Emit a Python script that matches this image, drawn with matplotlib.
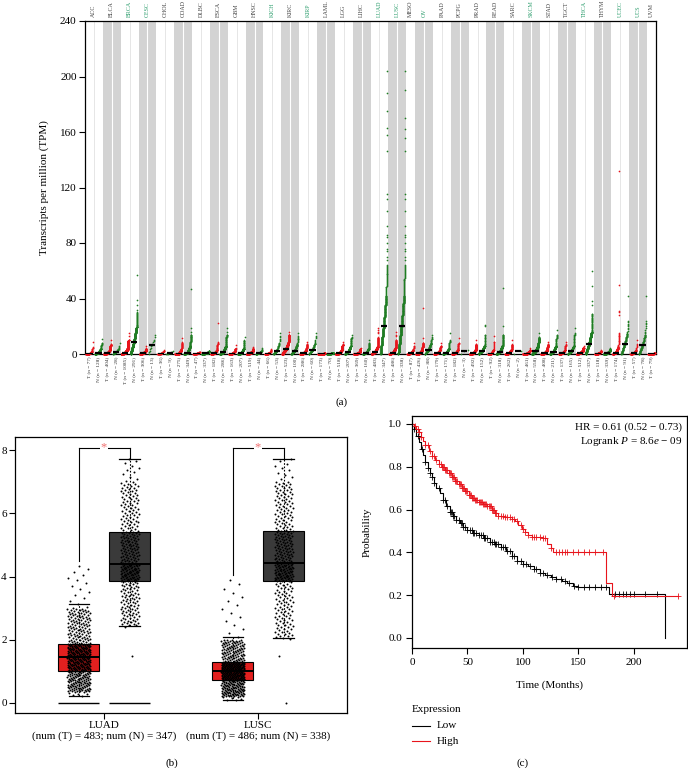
import numpy as np
import matplotlib
matplotlib.use("Agg")
import matplotlib.pyplot as plt
from matplotlib.lines import Line2D

plt.rcParams['font.family'] = ['Liberation Serif', 'DejaVu Serif']
plt.rcParams['mathtext.fontset'] = 'custom'
plt.rcParams['mathtext.rm'] = 'Liberation Serif'
plt.rcParams['mathtext.it'] = 'Liberation Serif:italic'

# ---------------- Panel (a) data ----------------
cancers = ['ACC', 'BLCA', 'BRCA', 'CESC', 'CHOL', 'COAD', 'DLBC', 'ESCA', 'GBM', 'HNSC', 'KICH',
           'KIRC', 'KIRP', 'LAML', 'LGG', 'LIHC', 'LUAD', 'LUSC', 'MESO', 'OV', 'PAAD', 'PCPG',
           'PRAD', 'READ', 'SARC', 'SKCM', 'STAD', 'TGCT', 'THCA', 'THYM', 'UCEC', 'UCS', 'UVM']
cancer_sig = ['BRCA', 'CESC', 'KICH', 'KIRP', 'LUAD', 'LUSC', 'OV', 'SKCM', 'THCA', 'UCEC', 'UCS']
tumor_n = [77, 404, 1085, 306, 36, 275, 47, 182, 163, 519, 66, 523, 286, 173, 518, 369, 483, 486,
           87, 426, 179, 182, 492, 92, 262, 461, 408, 137, 512, 118, 174, 57, 79]
normal_n = [128, 28, 291, 13, 9, 349, 337, 286, 207, 44, 53, 100, 60, 70, 207, 160, 347, 338,
            0, 88, 171, 3, 152, 318, 2, 558, 211, 165, 337, 339, 91, 78, 0]
# TPM: median, 90th percentile, top of dense part, isolated high values
tumor_med = [0.3, 0.5, 1.0, 0.5, 0.3, 0.3, 0.3, 0.5, 0.3, 0.5, 0.3, 3.4, 0.5, 0.1, 0.5, 0.3, 1.4, 1.0,
             0.5, 0.5, 0.5, 0.5, 0.5, 0.3, 0.5, 0.3, 0.5, 0.5, 0.8, 0.3, 1.0, 0.5, 0.2]
tumor_q90 = [2, 3, 4, 2, 1.5, 3, 1, 3, 2, 2, 1.5, 8, 3, 0.4, 3, 1.5, 5, 4,
             3, 3, 3, 3, 3, 3, 3, 1.5, 3, 3, 2.5, 1.5, 5, 3, 0.4]
tumor_top = [5, 7, 10, 4, 2.5, 8, 1.7, 8, 4, 4, 3, 14, 7, 0.8, 7, 3.5, 12, 10,
             6, 8, 6, 8, 7, 9, 7, 3, 7, 7, 4.5, 2.5, 15, 7, 0.6]
tumor_extra = [[9], [10], [15, 13], [6], [3], [11.8, 9], [], [22, 9], [6.5], [5], [3.4], [16], [9],
               [], [8.5], [4.5], [19, 17, 16, 15], [16, 14, 13], [8], [33, 11.5], [8], [11.5], [10],
               [13], [10], [4], [9], [9], [5.5], [3], [132, 50, 31, 30, 28], [10], []]
normal_med = [0.8, 1.4, 9, 6.2, 0.5, 1.0, 0.5, 1.2, 0.5, 0.8, 2.4, 2.4, 2.9, 0.3, 1.5, 0.8, 20, 20,
              0, 3, 1.0, 2, 2, 1.5, 2, 2, 1.5, 2, 7.2, 0.5, 7.2, 6.5, 0]
normal_q90 = [4, 4, 20, 10, 1.5, 6, 1.2, 6, 4, 2, 8, 7, 8, 0.6, 6, 4, 42, 42,
              0, 8, 4, 2.5, 6, 6, 2.1, 6, 6, 6, 16, 2, 15, 14, 0]
normal_top = [8, 6, 30, 12, 2, 14, 2, 14, 10, 3.5, 13, 13, 13, 1.0, 12, 8, 64, 64,
              0, 12, 10, 3, 14, 14, 2.2, 12, 14, 15, 29, 3.5, 24, 24, 0]
lung_tail_luad = [204, 188, 175, 163, 158, 146, 115, 112, 103, 92, 86, 84, 80, 76, 74, 70, 68]
lung_tail_lusc = [204, 190, 170, 162, 156, 146, 115, 112, 103, 92, 86, 84, 80, 76, 74, 70, 68]
normal_extra = [[10.5], [7.7], [57, 39, 35, 32], [14], [], [47, 18.5, 16], [], [18.5, 16], [12.5], [4],
                [15], [15], [15], [], [13.7], [10], lung_tail_luad, lung_tail_lusc, [], [14], [15], [],
                [21, 20], [47.5, 20], [], [15], [17.5], [19], [60, 49, 38, 35], [4], [42], [42], []]

# ---------------- Panel (b) data (log2(TPM+1)) ----------------
box_names = ['LUAD', 'LUSC']
box_nT = [483, 486]
box_nN = [347, 338]
# whislo, q1, med, q3, whishi
boxT_stats = [[0.21, 1.00, 1.44, 1.88, 3.13], [0.08, 0.72, 1.01, 1.28, 2.09]]
boxN_stats = [[2.44, 3.85, 4.41, 5.41, 7.72], [2.04, 3.85, 4.44, 5.44, 7.72]]
# quantile profiles of the jittered points
ptsT_p = [[0, 0.01, 0.25, 0.5, 0.75, 0.97, 1.0], [0, 0.01, 0.25, 0.5, 0.75, 0.97, 1.0]]
ptsT_v = [[0.21, 0.35, 1.00, 1.44, 1.88, 3.0, 4.34], [0.08, 0.2, 0.72, 1.01, 1.28, 2.0, 3.88]]
ptsN_p = [[0, 0.003, 0.25, 0.5, 0.75, 0.97, 1.0], [0, 0.0029, 0.006, 0.25, 0.5, 0.75, 0.97, 1.0]]
ptsN_v = [[1.48, 2.44, 3.85, 4.41, 5.41, 7.0, 7.72], [0.0, 1.48, 2.04, 3.85, 4.44, 5.44, 7.0, 7.72]]
bracket_left_low = [4.5, 4.06]
bracket_top = 8.08
zero_line = [True, False]

# ---------------- Panel (c) data ----------------
high_t = [0, 2, 4, 6, 8, 10, 12, 15, 18, 21, 24, 27, 30, 33, 36, 39, 42, 45, 48, 51, 54, 57, 60, 64,
          68, 72, 75, 78, 84, 90, 93, 96, 99, 102, 105, 108, 118, 122, 125, 127, 175, 180, 240]
high_s = [1.0, 0.99, 0.975, 0.96, 0.94, 0.92, 0.9, 0.875, 0.85, 0.83, 0.815, 0.80, 0.785, 0.77, 0.75,
          0.735, 0.72, 0.70, 0.685, 0.67, 0.655, 0.645, 0.635, 0.625, 0.615, 0.60, 0.585, 0.57, 0.565,
          0.555, 0.545, 0.53, 0.51, 0.495, 0.48, 0.47, 0.465, 0.44, 0.42, 0.40, 0.257, 0.195, 0.195]
low_t = [0, 2, 4, 6, 8, 10, 12, 14, 16, 18, 20, 22, 25, 28, 31, 34, 37, 40, 43, 46, 50, 55, 60, 65,
         70, 75, 80, 85, 90, 95, 100, 105, 110, 115, 120, 125, 130, 135, 140, 145, 150, 178, 228.6]
low_s = [1.0, 0.975, 0.945, 0.915, 0.885, 0.855, 0.82, 0.795, 0.77, 0.75, 0.725, 0.70, 0.675, 0.645,
         0.615, 0.59, 0.57, 0.55, 0.535, 0.52, 0.505, 0.49, 0.48, 0.465, 0.45, 0.44, 0.425, 0.405,
         0.385, 0.36, 0.345, 0.335, 0.32, 0.305, 0.295, 0.285, 0.275, 0.265, 0.255, 0.245, 0.238,
         0.203, 0.0]
high_cens = [3, 5, 6, 8, 12, 14, 16, 18, 20, 22, 24, 26, 27, 28, 29, 30, 31, 32, 33, 34, 35, 36, 37, 38,
             39, 40, 41, 42, 43, 44, 45, 46, 47, 48, 49, 50, 51, 52, 53, 54, 55, 56, 57, 58, 59, 60, 61,
             62, 63, 64, 65, 66, 67, 68, 69, 70, 71, 72, 73, 74, 75, 76, 78, 80, 82, 84, 86, 88, 90, 92,
             95, 98, 100, 102, 105, 108, 110, 112, 115, 118, 120, 125, 130, 133, 135, 138, 140, 145,
             150, 155, 160, 165, 172, 182, 240]
low_cens = [2, 5, 9, 12, 14, 16, 18, 20, 24, 28, 30, 32, 34, 35, 36, 37, 38, 40, 42, 44, 45, 46, 48, 50,
            52, 54, 55, 56, 58, 60, 62, 64, 65, 66, 68, 70, 72, 74, 75, 76, 78, 80, 82, 84, 86, 88, 90,
            92, 95, 98, 100, 103, 106, 110, 112, 115, 118, 122, 126, 130, 134, 138, 142, 146, 150, 155,
            160, 165, 170, 175, 183, 187, 190, 193, 197, 200, 210, 221]

RED_PT = '#e8141c'
GREEN_PT = '#1f7d23'
SIG_GREEN = '#2e9e6e'

W, H = 688, 768
fig = plt.figure(figsize=(W / 100, H / 100), dpi=100)


def fx(px):
    return px / W


def fy(py):
    return 1 - py / H


# ================= Panel (a) =================
axA = fig.add_axes([fx(85), fy(354), fx(571), 333 / H])
widths = [1 if normal_n[i] == 0 else 2 for i in range(len(cancers))]
starts = np.concatenate([[0], np.cumsum(widths)[:-1]])
total = int(np.sum(widths))
axA.set_xlim(0, total)
axA.set_ylim(0, 240)

tick_pos, tick_lab = [], []
for ci, name in enumerate(cancers):
    s0, w = starts[ci], widths[ci]
    if ci % 2 == 1:
        axA.axvspan(s0, s0 + w, color='#d3d3d3', lw=0, zorder=0)
        if w == 2:
            axA.axvline(s0 + 1, color='white', lw=0.8, zorder=0.5)
    else:
        if w == 2:
            axA.axvline(s0 + 1, color='#e2e2e2', lw=0.6, zorder=0.5)
    col = SIG_GREEN if name in cancer_sig else '#444444'
    axA.text(s0 + w / 2, 243, name, rotation=90, ha='center', va='bottom', fontsize=4.3,
             color=col, clip_on=False)
    groups = [('T', tumor_n[ci], tumor_med[ci], tumor_q90[ci], tumor_top[ci], tumor_extra[ci], RED_PT)]
    if normal_n[ci] > 0:
        groups.append(('N', normal_n[ci], normal_med[ci], normal_q90[ci], normal_top[ci],
                       normal_extra[ci], GREEN_PT))
    for gi, (typ, n, med, q90, top, extra, color) in enumerate(groups):
        g0 = s0 + gi
        k = len(extra)
        base = np.interp(np.linspace(0, 1, max(n - k, 1)), [0, 0.5, 0.9, 1.0], [0, med, q90, top])
        vals = np.sort(np.concatenate([base, np.array(extra, dtype=float)]))
        xs = g0 + 0.12 + 0.76 * np.arange(len(vals)) / max(len(vals) - 1, 1)
        axA.scatter(xs, vals, s=1.5, color=color, linewidths=0, zorder=3, clip_on=False)
        axA.hlines(med, g0 + 0.15, g0 + 0.85, color='black', lw=1.6, zorder=4)
        tick_pos.append(g0 + 0.5)
        tick_lab.append(f'{typ} (n = {n})')

axA.set_xticks(tick_pos)
axA.set_xticklabels(tick_lab, rotation=90, fontsize=3.8, color='#333333')
axA.tick_params(axis='x', length=0, pad=2)
axA.set_yticks(np.arange(0, 241, 40))
axA.tick_params(axis='y', length=4, width=0.8, labelsize=8, pad=2)
axA.set_ylabel('Transcripts per million (TPM)', fontsize=8, labelpad=8)
for sp in axA.spines.values():
    sp.set_linewidth(0.9)
fig.text(fx(342), fy(402), '(a)', ha='center', va='center', fontsize=8)

# ================= Panel (b) =================
axB = fig.add_axes([fx(15), fy(713), fx(332), 276 / H])
axB.set_xlim(0.422, 2.578)
axB.set_ylim(-0.32, 8.42)
offT, offN, bw = -0.163, 0.167, 0.266
stats = []
pos = []
colors = []
for i in range(2):
    for st, off, c in ((boxT_stats[i], offT, '#e2201f'), (boxN_stats[i], offN, '#3a3a3a')):
        stats.append(dict(whislo=st[0], q1=st[1], med=st[2], q3=st[3], whishi=st[4], fliers=[]))
        pos.append(i + 1 + off)
        colors.append(c)
bp = axB.bxp(stats, positions=pos, widths=bw, patch_artist=True, showfliers=False,
             boxprops=dict(linewidth=0.8, edgecolor='black'),
             medianprops=dict(color='black', linewidth=1.4),
             whiskerprops=dict(color='black', linewidth=0.8, linestyle=(0, (1.5, 1.5))),
             capprops=dict(color='black', linewidth=0.9), capwidths=bw * 0.5, zorder=2)
for patch, c in zip(bp['boxes'], colors):
    patch.set_facecolor(c)

golden = 0.6180339887
for i in range(2):
    for p, v, n, off, jw in ((ptsT_p[i], ptsT_v[i], box_nT[i], offT, 0.15),
                             (ptsN_p[i], ptsN_v[i], box_nN[i], offN, 0.12)):
        vals = np.interp(np.linspace(0, 1, n), p, v)
        jit = ((np.arange(n) + 1) * golden) % 1.0 - 0.5
        axB.scatter(i + 1 + off + jit * jw, vals, s=2.0, color='black',
                    linewidths=0, zorder=3)
    if zero_line[i]:
        for off in (offT, offN):
            axB.hlines(0, i + 1 + off - bw / 2, i + 1 + off + bw / 2, color='black', lw=1.0, zorder=2)
    xl, xr = i + 1 + offT, i + 1 + offN
    axB.plot([xl, xl], [bracket_left_low[i], bracket_top], color='black', lw=0.8)
    axB.plot([xl, xr], [bracket_top, bracket_top], color='black', lw=0.8)
    axB.plot([xr, xr], [bracket_top, boxN_stats[i][4]], color='black', lw=0.8)
    axB.text(i + 1, bracket_top, '*', ha='center', va='center', fontsize=9, color='#f07070',
             bbox=dict(facecolor='white', edgecolor='none', pad=0.5), zorder=5)

axB.set_xticks([1, 2])
axB.set_xticklabels([f'{box_names[i]}\n(num (T) = {box_nT[i]}; num (N) = {box_nN[i]})' for i in range(2)],
                    fontsize=8, linespacing=1.15)
axB.set_yticks([0, 2, 4, 6, 8])
axB.tick_params(axis='both', length=4, width=0.8, labelsize=8, pad=2)
for sp in axB.spines.values():
    sp.set_linewidth(0.9)
fig.text(fx(172), fy(763), '(b)', ha='center', va='center', fontsize=8)

# ================= Panel (c) =================
axC = fig.add_axes([fx(412), fy(648), fx(275), 232 / H])
axC.set_xlim(0, 248)
axC.set_ylim(-0.047, 1.037)
for t, s, c, cens in ((low_t, low_s, 'black', low_cens), (high_t, high_s, '#e8141c', high_cens)):
    axC.step(t, s, where='post', color=c, lw=0.8)
    ta = np.array(t)
    sa = np.array(s)
    idx = np.searchsorted(ta, np.array(cens), side='right') - 1
    axC.plot(cens, sa[idx], linestyle='none', marker='+', markersize=5, markeredgewidth=0.6, color=c)
axC.set_xticks([0, 50, 100, 150, 200])
axC.set_yticks([0, 0.2, 0.4, 0.6, 0.8, 1.0])
axC.set_yticklabels([f'{v:.1f}' for v in [0, 0.2, 0.4, 0.6, 0.8, 1.0]])
axC.tick_params(axis='both', length=4, width=0.8, labelsize=8, pad=3)
axC.set_xlabel('Time (Months)', fontsize=8, labelpad=10)
axC.set_ylabel('Probability', fontsize=8, labelpad=12)
for sp in axC.spines.values():
    sp.set_linewidth(0.9)
axC.text(0.982, 0.953, 'HR = 0.61 (0.52 − 0.73)', transform=axC.transAxes, ha='right', va='center',
         fontsize=8)
axC.text(0.982, 0.888, r'Logrank $P$ = 8.6$e$ − 09', transform=axC.transAxes, ha='right', va='center',
         fontsize=8)

fig.text(fx(412), fy(710), 'Expression', ha='left', va='center', fontsize=8)
fig.add_artist(Line2D([fx(412), fx(430)], [fy(726), fy(726)], color='black', lw=0.8))
fig.text(fx(437), fy(726), 'Low', ha='left', va='center', fontsize=8)
fig.add_artist(Line2D([fx(412), fx(430)], [fy(741), fy(741)], color='#e8141c', lw=0.8))
fig.text(fx(437), fy(741), 'High', ha='left', va='center', fontsize=8)
fig.text(fx(523), fy(763), '(c)', ha='center', va='center', fontsize=8)

fig.savefig('out.png', dpi=100)
